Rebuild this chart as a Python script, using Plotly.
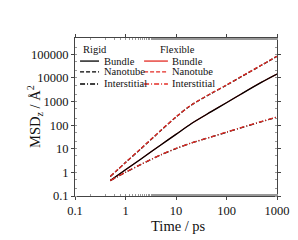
import plotly.graph_objects as go

time_ps = [0.5, 1, 2, 5, 10, 20, 50, 100, 200, 500, 1000]

rigid_bundle = [0.457, 1.29, 3.63, 14.5, 40.7, 115, 372, 891, 2140, 6600, 14450]
rigid_nanotube = [0.66, 2.6, 9.8, 59, 220, 700, 2200, 4950, 11500, 35000, 82000]
rigid_interstitial = [0.447, 1.0, 2.14, 5.5, 10.2, 17.4, 31.6, 50, 79, 141, 219]

flex_bundle = [0.457, 1.29, 3.65, 14.6, 41, 116, 375, 898, 2150, 6650, 14600]
flex_nanotube = [0.68, 2.63, 10, 60, 224, 708, 2240, 5000, 11700, 35500, 83000]
flex_interstitial = [0.45, 1.01, 2.16, 5.55, 10.3, 17.6, 32, 50.5, 80, 143, 222]

ytick_vals = [0.1, 1, 10, 100, 1000, 10000, 100000]
ytick_text = ["0.1", "1", "10", "100", "1000", "10000", "100000"]
xtick_vals = [0.1, 1, 10, 100, 1000]
xtick_text = ["0.1", "1", "10", "100", "1000"]

legend_groups = ["Rigid", "Flexible"]
legend_labels = ["Bundle", "Nanotube", "Interstitial"]

FONT = "Liberation Serif"
BLACK = "#000000"
RED = "#e32b24"
DASHES = ["solid", "4px,2px", "5px,2px,1px,2px"]

fig = go.Figure()

def add(y, color, dash, width=1.3):
    fig.add_trace(go.Scatter(
        x=time_ps, y=y, mode="lines", showlegend=False,
        line=dict(color=color, dash=dash, width=width, shape="spline", smoothing=0.8),
    ))

add(flex_bundle, RED, DASHES[0], width=1.1)
add(rigid_bundle, BLACK, DASHES[0])
add(rigid_nanotube, BLACK, DASHES[1])
add(flex_nanotube, RED, DASHES[1])
add(rigid_interstitial, BLACK, DASHES[2])
add(flex_interstitial, RED, DASHES[2])

axis_common = dict(
    type="log", showgrid=False, zeroline=False, automargin=False,
    showline=True, linecolor="#444", linewidth=1, mirror="ticks",
    ticks="outside", ticklen=3, tickcolor="#444", tickwidth=1,
    minor=dict(ticks="inside", ticklen=2, tickcolor="#999", showgrid=False),
    tickfont=dict(family=FONT, size=12.5, color="#111"),
)
fig.update_xaxes(**axis_common, range=[-1, 3], tickvals=xtick_vals, ticktext=xtick_text)
fig.update_yaxes(**axis_common, range=[-1, 5.69], tickvals=ytick_vals, ticktext=ytick_text)

# Manual two-column legend (paper coordinates)
annotations = []
shapes = []
col_title_x = [0.030, 0.411]
col_line_x = [(0.025, 0.119), (0.342, 0.460)]
col_text_x = [0.134, 0.470]
row_y = [0.854, 0.785, 0.709]
colors = [BLACK, RED]
for c in range(2):
    annotations.append(dict(text=legend_groups[c], x=col_title_x[c], y=0.930, xref="paper", yref="paper",
                            xanchor="left", yanchor="middle", showarrow=False,
                            font=dict(family=FONT, size=10.5, color="#111")))
    for r in range(3):
        shapes.append(dict(type="line", xref="paper", yref="paper",
                           x0=col_line_x[c][0], x1=col_line_x[c][1], y0=row_y[r], y1=row_y[r],
                           line=dict(color=colors[c], width=1.3, dash=DASHES[r])))
        annotations.append(dict(text=legend_labels[r], x=col_text_x[c], y=row_y[r], xref="paper", yref="paper",
                                xanchor="left", yanchor="middle", showarrow=False,
                                font=dict(family=FONT, size=10.5, color="#111")))

# axis titles
annotations.append(dict(text="Time / ps", x=0.51, y=-0.19, xref="paper", yref="paper",
                        xanchor="center", yanchor="middle", showarrow=False,
                        font=dict(family=FONT, size=14.5, color="#111")))
annotations.append(dict(text="MSD<sub>z</sub> / Å<sup>2</sup>", x=-0.198, y=0.5, xref="paper", yref="paper",
                        xanchor="center", yanchor="middle", showarrow=False, textangle=-90,
                        font=dict(family=FONT, size=14.5, color="#111")))

fig.update_layout(
    width=298, height=240,
    margin=dict(l=67, r=29, t=30, b=52),
    paper_bgcolor="white", plot_bgcolor="white",
    showlegend=False,
    annotations=annotations, shapes=shapes,
)

fig.write_html("out.html")
